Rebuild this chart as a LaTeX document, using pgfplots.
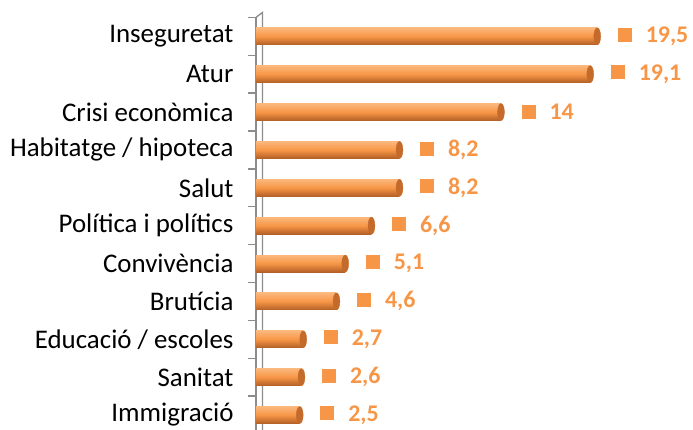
\documentclass[border=0pt]{standalone}
\usepackage{pgfplots}
\pgfplotsset{compat=1.18}
\usepackage{fontspec}
\setmainfont{Carlito}
\usetikzlibrary{calc}
\definecolor{barmid}{HTML}{F79646}
\definecolor{bartop}{HTML}{FBB77C}
\definecolor{barbot}{HTML}{B35F27}
\definecolor{barcap}{HTML}{C46B2C}
\definecolor{vorange}{HTML}{F79646}
\definecolor{wall}{HTML}{8C8C8C}

\pgfplotsset{
  cyl/.style={xbar, bar width=17bp, bar shift=0pt, draw=none,
    top color=bartop, bottom color=barbot, middle color=barmid,
    nodes near coords={\raisebox{1bp}{\color{vorange}\rule{14bp}{14bp}}\hspace{14bp}\textbf{\pgfplotspointmeta}},
    nodes near coords align={horizontal},
    every node near coord/.append style={anchor=west, text=vorange, font=\fontsize{24}{28}\selectfont, xshift=17bp}},
}

\begin{document}
\begin{tikzpicture}
\begin{axis}[
  scale only axis, width=350bp, height=412.6bp,
  xmin=0, xmax=20, ymin=-0.396, ymax=10.5,
  axis y line*=left, axis x line=none,
  y axis line style={draw=wall, line width=1.3bp},
  ytick={0,...,10},
  yticklabels={Immigració,Sanitat,Educació / escoles,Brutícia,Convivència,Política i polítics,Salut,Habitatge / hipoteca,Crisi econòmica,Atur,Inseguretat},
  major tick length=0pt,
  minor ytick={-0.5,0.5,...,10.5},
  minor tick length=8bp,
  tick align=outside,
  minor tick style={draw=wall, line width=1.3bp},
  yticklabel style={font=\fontsize{27}{31}\selectfont, xshift=-19bp},
  clip=false,
  point meta=explicit symbolic,
]
% back wall of the 3D frame
\draw[wall, line width=1.3bp] ([xshift=6.5bp]axis cs:0,-0.396) -- ([xshift=6.5bp,yshift=5bp]axis cs:0,10.5) -- (axis cs:0,10.5);

\addplot[cyl] coordinates {(19.5,10) [19{,}5]};
\addplot[cyl] coordinates {(19.1,9)  [19{,}1]};
\addplot[cyl] coordinates {(14,8)    [14]};
\addplot[cyl] coordinates {(8.2,7)   [8{,}2]};
\addplot[cyl] coordinates {(8.2,6)   [8{,}2]};
\addplot[cyl] coordinates {(6.6,5)   [6{,}6]};
\addplot[cyl] coordinates {(5.1,4)   [5{,}1]};
\addplot[cyl] coordinates {(4.6,3)   [4{,}6]};
\addplot[cyl] coordinates {(2.7,2)   [2{,}7]};
\addplot[cyl] coordinates {(2.6,1)   [2{,}6]};
\addplot[cyl] coordinates {(2.5,0)   [2{,}5]};
% rounded bar ends
\addplot[only marks, color=barcap, mark=*, mark size=8.5bp, mark options={xscale=0.4, fill=barcap, draw=none}]
coordinates {(19.5,10) (19.1,9) (14,8) (8.2,7) (8.2,6) (6.6,5) (5.1,4) (4.6,3) (2.7,2) (2.6,1) (2.5,0)};
\end{axis}
\pgfresetboundingbox
\path[use as bounding box] ($(current axis.south west)+(-256bp,0)$) rectangle ($(current axis.north west)+(437bp,17.4bp)$);
\end{tikzpicture}
\end{document}
